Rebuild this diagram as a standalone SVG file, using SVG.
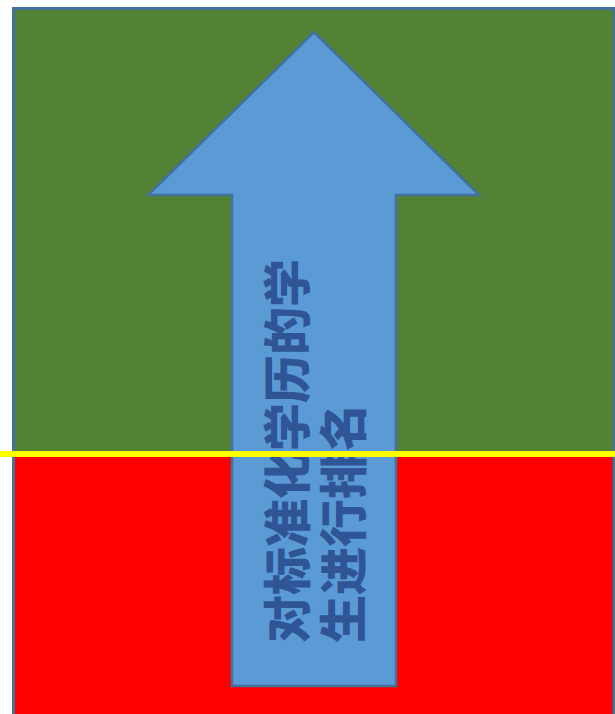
<svg xmlns="http://www.w3.org/2000/svg" width="615" height="714" viewBox="0 0 615 714">
<style>
.bg{stroke:#41719C;stroke-width:3}
.arrow{fill:#5B9BD5;stroke:#41719C;stroke-width:2.5}
.lbl{font-family:"Noto Sans CJK SC","Noto Sans",sans-serif;font-weight:900;font-size:48px;fill:#2F5597}
</style>
<g id="top-region"><rect class="bg" x="13.5" y="8.5" width="601" height="450" fill="#548235"/></g>
<g id="bottom-region"><rect x="15" y="456" width="598" height="260" fill="#FF0000"/><line x1="13.5" y1="456" x2="13.5" y2="714" stroke="#41719C" stroke-width="3"/><line x1="614" y1="456" x2="614" y2="714" stroke="#41719C" stroke-width="3"/></g>
<g id="arrow"><polygon class="arrow" points="314,32 479,195 396,195 396,686 232,686 232,195 148,195"/>
<text class="lbl" transform="translate(305,643) rotate(-90)">对标准化学历的学</text>
<text class="lbl" transform="translate(361,643) rotate(-90)">生进行排名</text></g>
<g id="connectors"><line x1="0" y1="454" x2="615" y2="454" stroke="#FFFF00" stroke-width="6"/></g>
</svg>
